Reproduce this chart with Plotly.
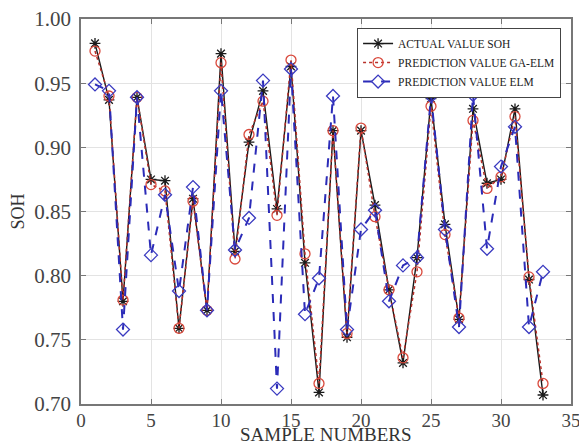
import plotly.graph_objects as go

samples = list(range(1, 34))
actual_soh = [0.981, 0.937, 0.780, 0.939, 0.875, 0.874, 0.759, 0.860, 0.773, 0.973,
              0.819, 0.904, 0.944, 0.852, 0.963, 0.810, 0.709, 0.913, 0.752, 0.913,
              0.855, 0.789, 0.732, 0.814, 0.938, 0.840, 0.766, 0.930, 0.872, 0.875,
              0.930, 0.797, 0.707]
ga_elm = [0.975, 0.940, 0.781, 0.939, 0.871, 0.866, 0.759, 0.858, 0.773, 0.966,
          0.813, 0.910, 0.936, 0.847, 0.968, 0.817, 0.716, 0.913, 0.755, 0.915,
          0.846, 0.789, 0.736, 0.803, 0.932, 0.832, 0.767, 0.921, 0.868, 0.877,
          0.924, 0.799, 0.716]
elm = [0.949, 0.944, 0.758, 0.939, 0.816, 0.863, 0.788, 0.869, 0.773, 0.944,
       0.820, 0.845, 0.952, 0.712, 0.961, 0.770, 0.798, 0.940, 0.758, 0.836,
       0.851, 0.780, 0.808, 0.814, 0.940, 0.836, 0.760, 0.941, 0.821, 0.885,
       0.916, 0.760, 0.803]

xticks = [0, 5, 10, 15, 20, 25, 30, 35]
yticks = [0.70, 0.75, 0.80, 0.85, 0.90, 0.95, 1.00]
x_title = "SAMPLE NUMBERS"
y_title = "SOH"

font = "Liberation Serif, Times New Roman, serif"

fig = go.Figure()
fig.add_trace(go.Scatter(
    x=samples, y=actual_soh, name="ACTUAL VALUE SOH", mode="lines+markers",
    line=dict(color="#1a1a1a", width=1.4),
    marker=dict(symbol="asterisk-open", size=9, color="#1a1a1a", line=dict(width=1.3, color="#1a1a1a")),
))
fig.add_trace(go.Scatter(
    x=samples, y=ga_elm, name="PREDICTION VALUE GA-ELM", mode="lines+markers",
    line=dict(color="#b8302a", width=1.5, dash="dot"),
    marker=dict(symbol="circle-open", size=10, color="#d9483b", line=dict(width=1.3)),
))
fig.add_trace(go.Scatter(
    x=samples, y=elm, name="PREDICTION VALUE ELM", mode="lines+markers",
    line=dict(color="#2b2bb8", width=2, dash="dash"),
    marker=dict(symbol="diamond-open", size=10, color="#3a3ac0", line=dict(width=1.3)),
))

# page body has an 8px margin: figure is offset by (8, 8) on screen
fig.update_layout(
    width=579, height=438,
    margin=dict(l=73, r=16, t=11, b=42, autoexpand=False),
    paper_bgcolor="white", plot_bgcolor="white",
    font=dict(family=font, size=18, color="#333333"),
    showlegend=True,
    legend=dict(
        x=0.563, y=0.977, xanchor="left", yanchor="top",
        bgcolor="white", bordercolor="#444444", borderwidth=1.2,
        font=dict(family=font, size=11.5, color="#222222"),
        tracegroupgap=0, itemwidth=30,
    ),
)
fig.add_annotation(
    text=x_title, xref="paper", yref="paper", x=0.5, y=-42 / 385,
    xanchor="center", yanchor="bottom", showarrow=False, borderpad=0,
    font=dict(family=font, size=19, color="#333333"),
)
fig.update_xaxes(
    range=[0, 35], tickvals=xticks, ticktext=[str(t) for t in xticks],
    showgrid=True, gridcolor="#e3e3e3", gridwidth=1,
    showline=True, linecolor="#777777", linewidth=1.5, mirror="ticks",
    ticks="inside", ticklen=5, tickcolor="#777777",
    zeroline=False, automargin=False, ticklabeloverflow="allow",
    tickfont=dict(family=font, size=19, color="#444444"),
    ticklabelstandoff=-2,
)
fig.update_yaxes(
    range=[0.70, 1.00], tickvals=yticks, ticktext=[f"{t:.2f}" for t in yticks],
    showgrid=True, gridcolor="#e3e3e3", gridwidth=1,
    showline=True, linecolor="#777777", linewidth=1.5, mirror="ticks",
    ticks="inside", ticklen=5, tickcolor="#777777",
    zeroline=False, automargin=False, ticklabeloverflow="allow",
    title=dict(text=y_title, font=dict(family=font, size=18, color="#333333"), standoff=8),
    tickfont=dict(family=font, size=21, color="#444444"),
    ticklabelstandoff=4,
)

fig.write_html("out.html")
